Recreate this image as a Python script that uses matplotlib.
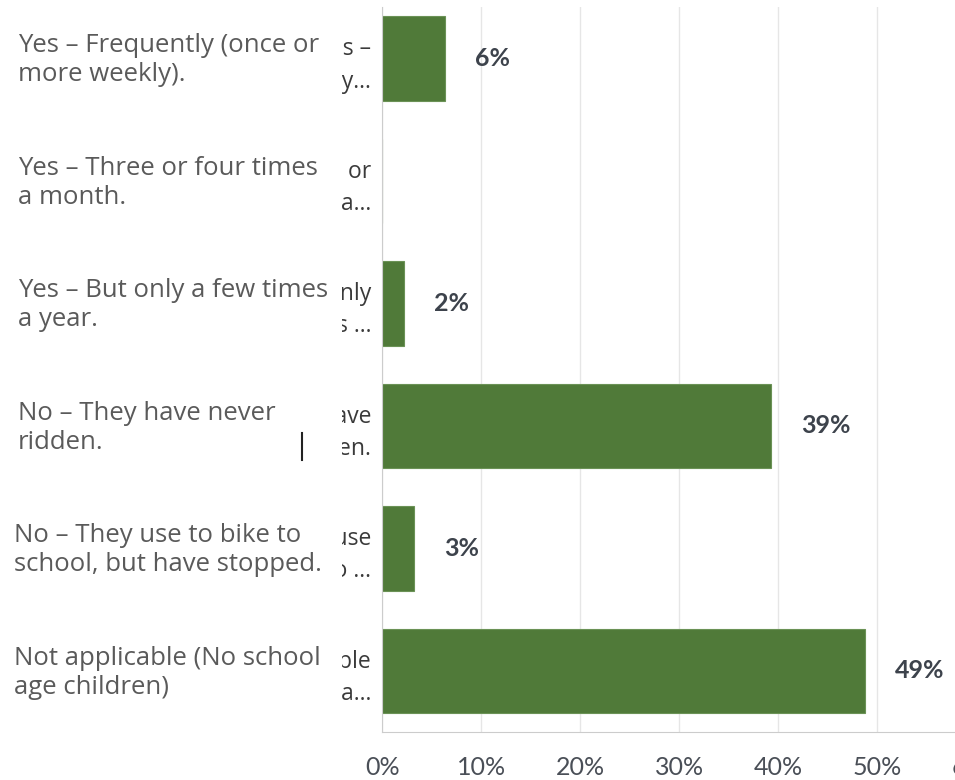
import matplotlib
matplotlib.use("Agg")
import matplotlib.pyplot as plt
import matplotlib.transforms as mtransforms
from matplotlib.patches import Rectangle
from matplotlib.lines import Line2D

# ---- data ----
categories = [
    "Yes – Frequently (once or\nmore weekly).",
    "Yes – Three or four times\na month.",
    "Yes – But only a few times\na year.",
    "No – They have never\nridden.",
    "No – They use to bike to\nschool, but have stopped.",
    "Not applicable (No school\nage children)",
]
# truncated axis tick labels (partially hidden under the overlay)
tick_labels = [
    "Yes –\nFrequently y…",
    "Yes – Three or\nfour times a…",
    "Yes – But only\na few times …",
    "No – They have\nnever ridden.",
    "No – They use\nto bike to …",
    "Not applicable\n(No school a…",
]
values = [6.3, 0.0, 2.2, 39.3, 3.2, 48.8]
value_labels = ["6%", "", "2%", "39%", "3%", "49%"]
x_ticks = [0, 10, 20, 30, 40, 50, 60]
x_tick_labels = ["0%", "10%", "20%", "30%", "40%", "50%", "60%"]

W, H = 955, 780
fig = plt.figure(figsize=(W / 100, H / 100), dpi=100)
fig.patch.set_facecolor("white")

# axes geometry in pixels
ax_left, ax_right = 382.3, 976.3
ax_top, ax_bottom = 7, 732
ax = fig.add_axes([ax_left / W, 1 - ax_bottom / H,
                   (ax_right - ax_left) / W, (ax_bottom - ax_top) / H])

ypos = list(range(len(categories)))
ax.barh(ypos, values, height=0.69, color="#507a39", edgecolor="#6b9256",
        linewidth=0.8, zorder=2)

ax.set_xlim(0, 60)
ax.set_ylim(5.5, -0.42)
ax.set_xticks(x_ticks)
ax.set_xticklabels(x_tick_labels, fontsize=18, color="#4a4f57",
                   family=["Lato", "DejaVu Sans"])
ax.set_yticks(ypos)
ax.set_yticklabels(tick_labels, fontsize=16.5, color="#3a3a3a",
                   family=["Open Sans", "DejaVu Sans"], linespacing=1.45)
ax.tick_params(axis="x", length=0, pad=17)
ax.tick_params(axis="y", length=0, pad=8)

ax.grid(axis="x", color="#e6e6e6", linewidth=1, zorder=0)
ax.set_axisbelow(True)
for s in ["top", "right"]:
    ax.spines[s].set_visible(False)
ax.spines["left"].set_color("#cccccc")
ax.spines["bottom"].set_color("#cccccc")

# value labels
for y, v, lab in zip(ypos, values, value_labels):
    if lab:
        ax.annotate(lab, (v, y), xytext=(30, 0), textcoords="offset pixels",
                    ha="left", va="center", fontsize=18, fontweight="bold",
                    color="#3d434c", family=["Lato", "DejaVu Sans"])

# white overlay panel hiding the truncated axis labels
fig.add_artist(Rectangle((0, 0), 342 / W, 1, transform=fig.transFigure,
                         facecolor="white", edgecolor="none", zorder=5))

# overlay full labels
blend = mtransforms.blended_transform_factory(fig.transFigure, ax.transData)
label_x = [18, 18, 18, 18, 14, 14]
for y, txt, lx in zip(ypos, categories, label_x):
    fig.text(lx / W, y + 0.015, txt, transform=blend, ha="left", va="center",
             fontsize=18.5, color="#5a5a5a", family=["Open Sans", "DejaVu Sans"],
             linespacing=1.22, zorder=6)

# text cursor mark
fig.add_artist(Line2D([301.5 / W, 301.5 / W], [1 - 460 / H, 1 - 433 / H],
                      transform=fig.transFigure, color="#222222",
                      linewidth=1.5, zorder=6))

fig.savefig("out.png", dpi=100)
